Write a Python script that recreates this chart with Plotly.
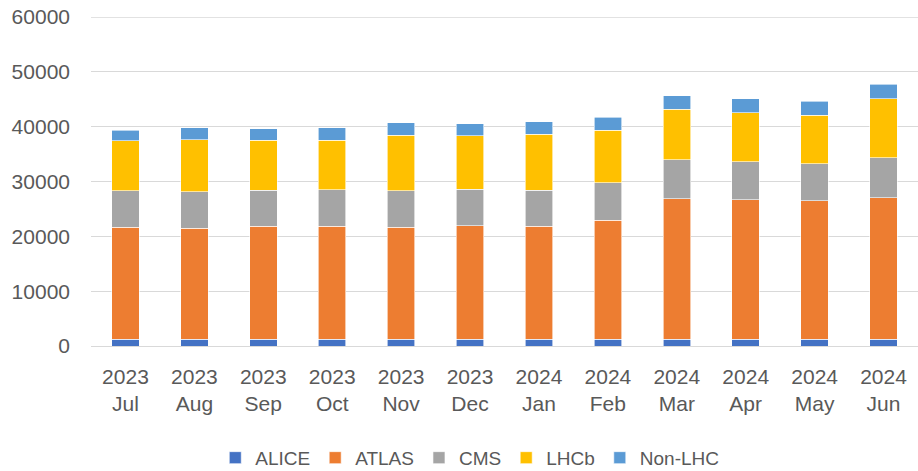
import plotly.graph_objects as go

months = ["2023<br>Jul", "2023<br>Aug", "2023<br>Sep", "2023<br>Oct", "2023<br>Nov", "2023<br>Dec",
          "2024<br>Jan", "2024<br>Feb", "2024<br>Mar", "2024<br>Apr", "2024<br>May", "2024<br>Jun"]

alice = [1200, 1200, 1200, 1200, 1200, 1200, 1200, 1200, 1200, 1200, 1200, 1200]
atlas = [20440, 20320, 20620, 20620, 20500, 20750, 20620, 21720, 25610, 25490, 25300, 25850]
cms = [6630, 6570, 6570, 6690, 6570, 6680, 6630, 6810, 7170, 6930, 6750, 7300]
lhcb = [9120, 9540, 9120, 9000, 10210, 9670, 10210, 9660, 9180, 8930, 8820, 10760]
nonlhc = [2000, 2130, 2130, 2250, 2190, 2190, 2250, 2370, 2490, 2560, 2550, 2670]

y_max = 60000

series = [
    ("ALICE", alice, "#4472C4"),
    ("ATLAS", atlas, "#ED7D31"),
    ("CMS", cms, "#A5A5A5"),
    ("LHCb", lhcb, "#FFC000"),
    ("Non-LHC", nonlhc, "#5B9BD5"),
]

fig = go.Figure()
for name, vals, color in series:
    fig.add_trace(go.Bar(
        x=months, y=vals, name=name,
        marker=dict(color=color, line=dict(color="white", width=0.6)),
    ))

grid_color = "#D9D9D9"
# top gridline (plotly omits the gridline at the exact range edge)
fig.add_shape(type="line", xref="paper", x0=0, x1=1, yref="y", y0=y_max, y1=y_max,
              line=dict(color=grid_color, width=1.3), layer="below")

font_family = "Liberation Sans, Arial, sans-serif"
fig.update_layout(
    barmode="stack",
    bargap=0.6,
    width=918, height=471,
    margin=dict(l=91, r=0, t=17, b=125, autoexpand=False),
    paper_bgcolor="white",
    plot_bgcolor="white",
    font=dict(family=font_family, size=20, color="#595959"),
    legend=dict(
        orientation="h",
        x=0.458, xanchor="center",
        yref="container",
        y=0.028, yanchor="middle",
        font=dict(size=19, color="#595959"),
        traceorder="normal",
        itemwidth=30,
    ),
    xaxis=dict(
        showgrid=False,
        showline=False,
        ticks="",
        tickfont=dict(size=21, color="#595959"),
        ticklabelstandoff=16,
        automargin=False,
    ),
    yaxis=dict(
        range=[0, y_max],
        dtick=10000,
        showgrid=True,
        gridcolor=grid_color,
        gridwidth=1.3,
        zeroline=True,
        zerolinecolor=grid_color,
        zerolinewidth=1.3,
        showline=False,
        ticks="",
        tickfont=dict(size=21, color="#595959"),
        ticklabelstandoff=20,
        ticklabeloverflow="allow",
        tickformat="d",
        automargin=False,
    ),
)

# remove the default 8px page margin so the figure fills the 918x471 window
fig.write_html("out.html", config={"displayModeBar": False},
               post_script="document.body.style.margin='0';")
